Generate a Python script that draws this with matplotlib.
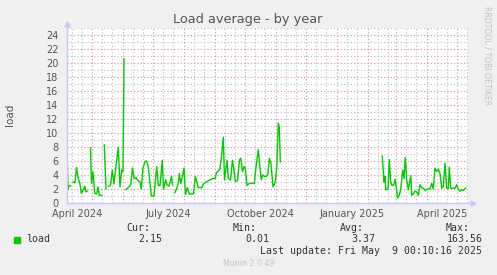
import datetime as dt
import numpy as np
import matplotlib
matplotlib.use("Agg")
import matplotlib.pyplot as plt

matplotlib.rcParams['font.family'] = 'DejaVu Sans'

# days since graph start (2024-04-05 ~17:00), NaN marks gaps in the data
day = [0.3, 1, 2, 3.7, 5, 6, 8, 9.5, 11, 13, 14.3, 16.3, 17.7, 19, 20.3, 22,
       23.5, 24.5, 26, 27.7, 29.7, 31, 32.3, 34.7, 36, 37.3, 39, 40.5, 41.5,
       43.5, 45.3, 47, 49.3, 51.3, 53, 54.7, 56, 57, 58, 59, 61.7, 63.7, 65.5,
       67, 69, 71, 73, 74.3, 76, 78, 79.5, 81.3, 82.5, 84.3, 87, 89.7, 91.3,
       93, 95.3, 96.5, 98.7, 100, 102, 103.7, 104.5, 105.5, 107, 108, 110,
       111.5, 112.3, 113.7, 115.5, 117, 118.5, 120.3, 122.3, 126.5, 128.3,
       129.7, 131.3, 134.7, 136.3, 139, 143, 146, 148, 149.7, 151.5, 153,
       154.7, 156.3, 157.5, 160, 161.3, 163.5, 165.5, 167, 168.3, 170.5,
       172.5, 173.7, 175.5, 177, 178.3, 180, 182.3, 185, 187.3, 189, 191.3,
       193, 194.3, 195.7, 197.5, 199.5, 201, 202.3, 204, 206, 208.3, 209.7,
       211.3, 212.3, 213.3, 214,
       315.3, 317, 318, 318.7, 321, 322.3, 323.7, 325, 327, 328, 329.3, 330.5,
       332, 333.7, 335.7, 337, 338.3, 339.7, 341.3, 343.7, 344.7, 346.3, 348,
       349.7, 351.3, 353, 354.7, 356.3, 358, 360.3, 363, 364.7, 366.3, 368,
       369.7, 371.3, 373, 374.7, 376.3, 378, 379.7, 381.3, 382.3, 383.7, 386,
       388, 389.7, 391.3, 393, 394.7, 396.3, 398.7]
load = [5.8, 1.9, 2.5, 2.4, np.nan, 3.0, 2.9, 5.1, 3.6, 2.7, 1.4, 1.9, 2.4,
        1.6, 1.7, np.nan, 7.9, 2.8, 4.5, 1.4, 1.3, 2.3, 1.1, 1.1, np.nan, 8.3,
        2.0, np.nan, 2.4, 2.5, 4.7, 2.7, 5.7, 8.0, 2.3, 4.7, 4.5, 20.6,
        np.nan, 1.9, 2.3, 2.6, 5.0, 3.5, 3.6, 3.2, 3.0, 2.0, 5.0, 5.9, 6.0,
        5.2, 3.5, 1.0, 1.0, 5.2, 2.5, 2.5, 6.1, 2.0, 3.3, 2.6, 2.4, 3.3, 3.8,
        2.6, np.nan, 1.5, 2.2, 3.0, 4.2, 2.8, 3.8, 5.0, 1.2, 2.2, 1.3, 1.3,
        3.8, 3.0, 2.2, 2.2, 2.7, 3.0, 3.3, 3.5, 3.5, 4.4, 4.6, 4.9, 7.0, 9.4,
        3.3, 6.1, 3.5, 3.3, 6.1, 4.7, 3.1, 3.2, 6.2, 6.4, 4.5, 5.2, 5.0, 2.5,
        2.8, 2.8, 2.8, 5.2, 7.6, 5.0, 3.3, 4.0, 3.8, 3.8, 4.2, 6.4, 5.6, 2.3,
        3.0, 5.0, 11.4, 10.8, 5.9, np.nan,
        6.7, 3.0, 3.8, 1.9, 2.0, 6.2, 3.0, 2.5, 2.6, 3.4, 2.3, 0.7, 1.0, 1.9,
        4.7, 3.5, 6.5, 3.3, 1.9, 3.9, 1.1, 1.3, 1.7, 1.6, 1.1, 2.6, 2.2, 2.1,
        1.8, 2.0, 2.0, 2.8, 2.0, 5.0, 4.5, 4.8, 4.2, 2.1, 2.4, 5.7, 2.1, 2.1,
        5.1, 2.1, 2.1, 2.1, 2.6, 2.0, 1.7, 1.9, 1.8, 2.15]

y_ticks = list(range(0, 25, 2))
month_labels = ["April 2024", "July 2024", "October 2024", "January 2025", "April 2025"]
label_dates = [dt.datetime(2024, 4, 16), dt.datetime(2024, 7, 16), dt.datetime(2024, 10, 16),
               dt.datetime(2025, 1, 16), dt.datetime(2025, 4, 16)]

stats_names = ["Cur:", "Min:", "Avg:", "Max:"]
stats_vals = ["2.15", "0.01", "3.37", "163.56"]

start = dt.datetime(2024, 4, 5, 17, 0)
end = start + dt.timedelta(days=401)
dates = [start + dt.timedelta(days=d) for d in day]

W, H = 497, 275
fig = plt.figure(figsize=(W / 100, H / 100), dpi=100, facecolor='#f0f0f0')
ax = fig.add_axes([67 / W, 72 / H, 401 / W, 175 / H])
ax.set_facecolor('white')
ax.set_xlim(start, end)
ax.set_ylim(0, 25)

# grid (rrdtool style dotted lines)
dot = (0, (1, 2))
major_col, minor_col = '#dd9090', '#bdbdbd'
for v in range(1, 26):
    ax.axhline(v, color=major_col if v % 2 == 0 else minor_col, lw=0.8, ls=dot, zorder=1)
cur = dt.datetime(2024, 4, 1)
while cur < end:
    for d in (1, 11, 21):
        t = cur.replace(day=d)
        if start < t < end:
            ax.axvline(t, color=major_col if d == 1 else minor_col, lw=0.8, ls=dot, zorder=1)
    cur = (cur + dt.timedelta(days=32)).replace(day=1)

ax.plot(dates, load, color='#00cc00', lw=1.0, zorder=3)

for s in ax.spines.values():
    s.set_visible(False)

axis_col = '#c8c8f5'
ax.plot([0, 0], [0, 1.02], color=axis_col, lw=1, transform=ax.transAxes, clip_on=False, zorder=4)
ax.plot([0, 1.012], [0, 0], color=axis_col, lw=1, transform=ax.transAxes, clip_on=False, zorder=4)
ax.plot([0], [1.025], marker='^', ms=3.5, color=axis_col, transform=ax.transAxes, clip_on=False)
ax.plot([1.013], [0], marker='>', ms=3.5, color=axis_col, transform=ax.transAxes, clip_on=False)

ax.set_yticks(y_ticks)
ax.set_yticklabels([str(v) for v in y_ticks])
ax.set_xticks(label_dates)
ax.set_xticklabels(month_labels)
ax.tick_params(axis='both', length=0, labelsize=7, colors='#555555')
ax.tick_params(axis='y', pad=6)
ax.tick_params(axis='x', pad=4)

fig.text(248 / W, 1 - 19 / H, "Load average - by year", ha='center', va='center',
         fontsize=9.3, color='#555555')
fig.text(10 / W, 1 - 115 / H, "load", rotation=90, ha='center', va='center',
         fontsize=7.5, color='#555555')
fig.text(487.5 / W, 1 - 56 / H, "RRDTOOL / TOBI OETIKER", rotation=270, ha='center',
         va='center', fontsize=5.6, color='#c4c4c4')

# legend block
mono = 'DejaVu Sans Mono'
fig.patches.append(matplotlib.patches.Rectangle((14 / W, 1 - 242.5 / H), 6 / W, 6 / H,
                                                 transform=fig.transFigure, color='#00cc00'))
fig.text(26.5 / W, 1 - 239.5 / H, "load", family=mono, fontsize=7.1, color='#333333',
         ha='left', va='center')
for i, (n, v) in enumerate(zip(stats_names, stats_vals)):
    xr = 162.3 + i * 106.7
    fig.text((xr - 12.3) / W, 1 - 228 / H, n, family=mono, fontsize=7.1, color='#333333',
             ha='right', va='center')
    fig.text(xr / W, 1 - 239.5 / H, v, family=mono, fontsize=7.1, color='#333333',
             ha='right', va='center')
fig.text(482.3 / W, 1 - 251 / H, "Last update: Fri May  9 00:10:16 2025", family=mono,
         fontsize=7.1, color='#333333', ha='right', va='center')
fig.text(249 / W, 1 - 264 / H, "Munin 2.0.49", fontsize=5.7, color='#c8c8c8',
         ha='center', va='center')

fig.savefig("out.png", dpi=100, facecolor=fig.get_facecolor())
